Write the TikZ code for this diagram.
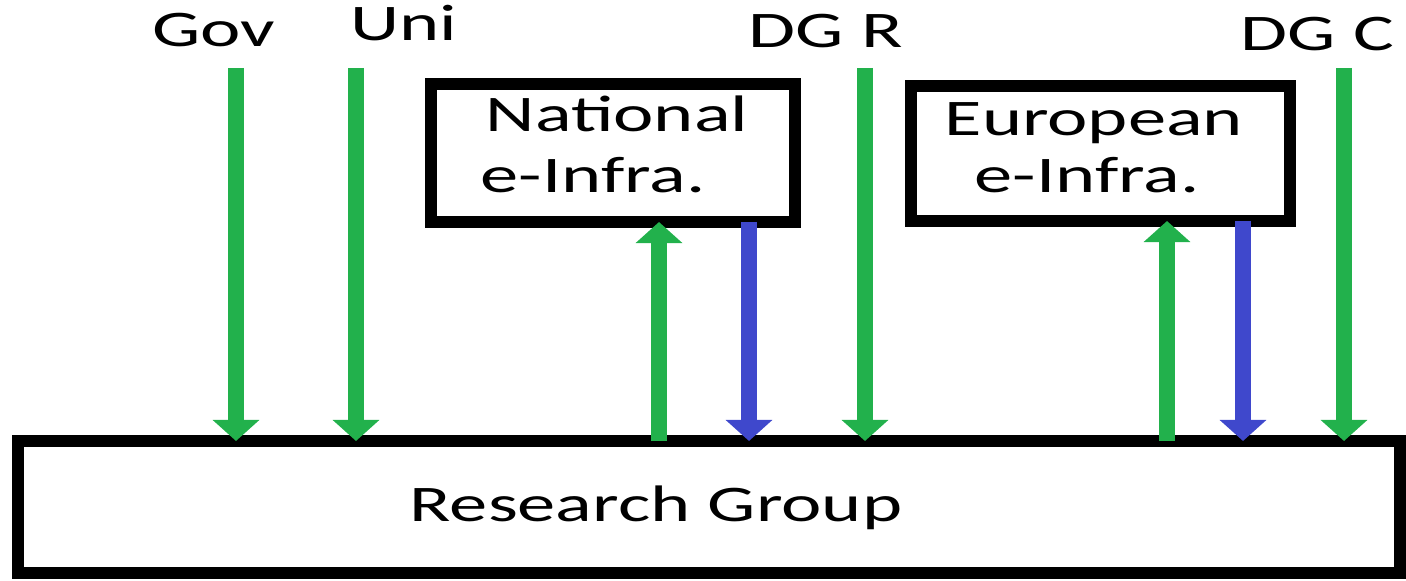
\documentclass[tikz,border=0pt]{standalone}
\usepackage{fontspec}
\setmainfont{Carlito}[FakeStretch=1.49]
\usetikzlibrary{arrows.meta}
\definecolor{fundgreen}{RGB}{34,177,76}
\definecolor{serviceblue}{RGB}{63,72,204}

\tikzset{
  infra/.style={draw,line width=3.4pt,inner sep=0pt,outer sep=0pt},
  lbl/.style={anchor=base west,inner sep=0pt,font=\fontsize{14.6}{16}\selectfont},
  flow/.style={line width=4.6pt,-{Triangle[width=13pt,length=6pt]}},
}

\begin{document}
\begin{tikzpicture}
  \useasboundingbox (0,0) rectangle (14.06,5.8);

  \node [infra,minimum width=13.82cm,minimum height=1.32cm] (rg) at (7.09,0.73) {};
  \node [infra,minimum width=3.64cm,minimum height=1.38cm] (nat) at (6.13,4.27) {};
  \node [infra,minimum width=3.79cm,minimum height=1.35cm] (eur) at (11.005,4.265) {};

  \node [lbl] (gov) at (1.52,5.33) {Gov};
  \node [lbl] (uni) at (3.50,5.39) {Uni};
  \node [lbl] (dgr) at (7.48,5.32) {DG R};
  \node [lbl] (dgc) at (12.40,5.29) {DG C};
  \node [lbl] (nat1) at (4.85,4.48) {National};
  \node [lbl] (nat2) at (4.80,3.87) {e-Infra.};
  \node [lbl] (eur1) at (9.44,4.44) {European};
  \node [lbl] (eur2) at (9.74,3.87) {e-Infra.};
  \node [lbl] (rgtext) at (4.09,0.59) {Research Group};

  \coordinate (gov0) at (2.36,5.12);
  \coordinate (uni0) at (3.56,5.12);
  \coordinate (dgr0) at (8.65,5.12);
  \coordinate (dgc0) at (13.44,5.12);
  \coordinate (natup) at (6.59,0);
  \coordinate (natdown) at (7.49,0);
  \coordinate (eurup) at (11.67,0);
  \coordinate (eurdown) at (12.43,0);

  % funding from the top
  \draw [flow,fundgreen] (gov0) -- (gov0 |- rg.north);
  \draw [flow,fundgreen] (uni0) -- (uni0 |- rg.north);
  \draw [flow,fundgreen] (dgr0) -- (dgr0 |- rg.north);
  \draw [flow,fundgreen] (dgc0) -- (dgc0 |- rg.north);

  % group <-> infrastructures
  \draw [flow,fundgreen] (natup |- rg.north) -- (natup |- nat.south);
  \draw [flow,serviceblue] (natdown |- nat.south) -- (natdown |- rg.north);
  \draw [flow,fundgreen] (eurup |- rg.north) -- (eurup |- eur.south);
  \draw [flow,serviceblue] (eurdown |- eur.south) -- (eurdown |- rg.north);
\end{tikzpicture}
\end{document}
